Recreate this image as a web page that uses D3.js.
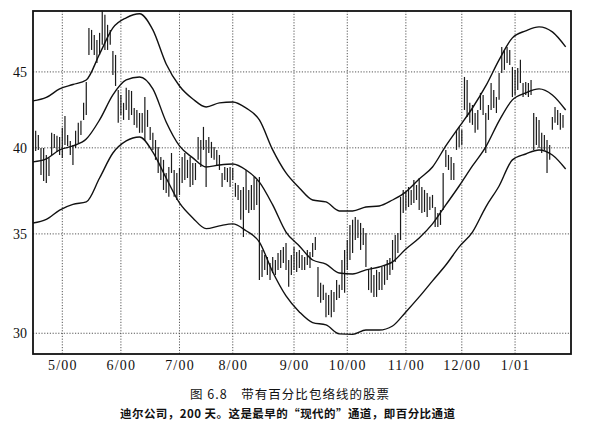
<!DOCTYPE html>
<html><head><meta charset="utf-8">
<script src="https://cdn.jsdelivr.net/npm/d3@7"></script>
<style>
html,body{margin:0;padding:0;background:#fff;}
svg{display:block;}
</style></head>
<body>
<svg id="chart" width="591" height="430"></svg>
<script>
// ---- data ----
const monthDays   = [11, 33, 55, 75, 98, 118, 140, 161, 181];
const monthLabels = ["5/00","6/00","7/00","8/00","9/00","10/00","11/00","12/00","1/01"];
const yTickValues = [30, 35, 40, 45];

// daily highs, days 1..199
const highs = [
41.07,40.81,39.99,39.99,39.56,39.38,40.94,40.87,40.75,40.68,
41.26,42.02,40.81,40.43,40.18,41.07,41.58,41.71,42.89,44.30,
48.18,48.03,47.66,47.29,47.81,49.48,49.17,48.41,48.03,46.49,
46.20,43.76,43.42,42.89,43.90,43.76,43.69,42.55,42.42,42.22,
42.22,43.28,42.42,41.32,40.94,40.49,40.05,39.44,39.26,38.47,
38.83,39.68,38.65,38.47,38.77,39.44,39.68,39.26,39.44,39.07,
39.07,40.68,40.49,41.32,40.49,40.68,40.37,40.05,39.87,39.56,
38.47,38.83,38.77,38.83,38.77,37.88,37.76,37.47,37.64,38.65,
37.47,37.76,38.23,38.05,38.23,34.14,33.87,33.77,33.45,33.77,
33.61,33.98,34.14,34.30,34.51,33.61,33.87,34.30,34.03,34.14,
33.87,33.77,34.14,34.03,34.51,34.83,33.25,32.44,32.34,31.94,
31.84,32.08,31.98,32.59,32.34,33.61,34.14,34.67,35.49,35.77,
35.93,35.77,35.60,35.32,35.05,33.10,33.25,32.84,33.10,32.99,
33.25,33.35,33.61,33.71,34.67,34.94,35.05,37.07,37.47,37.36,
37.64,37.47,38.05,37.76,38.17,37.64,37.47,37.30,37.07,37.18,
36.49,36.15,36.32,38.47,39.87,39.56,39.44,39.07,41.13,41.32,
41.13,44.65,44.44,42.89,42.75,42.22,42.42,43.56,43.42,42.22,
42.75,44.23,43.76,43.28,44.93,46.78,46.56,46.78,46.56,45.35,
45.14,45.28,45.85,44.23,44.30,44.23,44.44,42.22,41.96,41.77,
40.94,40.81,40.49,40.18,41.96,42.62,42.42,42.22,42.09];

// daily lows, days 1..199
const lows = [
39.81,39.87,38.35,37.99,37.88,38.29,39.56,39.99,39.74,39.56,
39.38,40.18,40.12,39.56,38.95,39.99,40.30,40.81,41.77,42.09,
46.20,46.56,46.20,45.63,46.20,46.93,46.56,46.56,46.93,44.79,
44.03,41.58,42.09,41.77,42.42,41.77,42.09,41.45,41.26,40.94,
40.94,40.49,41.32,40.49,39.87,39.26,38.47,38.05,37.47,37.30,
37.07,38.47,37.07,36.89,37.18,37.88,38.05,38.17,37.64,37.76,
38.05,39.26,38.83,39.87,37.64,39.68,39.38,39.26,38.95,38.65,
37.64,38.05,37.93,37.64,38.05,37.07,36.89,35.77,34.83,36.32,
36.15,36.32,36.32,36.61,32.59,32.74,33.10,32.84,32.59,32.94,
32.84,33.10,33.20,33.45,33.10,32.24,32.84,33.10,32.99,33.20,
33.10,33.10,33.35,33.20,33.77,34.14,31.74,31.45,31.59,30.76,
30.86,30.76,31.01,31.59,31.69,32.08,31.94,33.10,33.61,33.98,
34.67,34.78,34.14,34.40,33.25,32.08,31.94,31.74,31.74,32.08,
32.08,32.34,32.59,32.84,33.10,33.51,33.98,34.67,36.15,36.32,
36.49,36.61,36.72,36.89,36.32,36.15,36.21,35.93,36.32,36.44,
35.38,35.38,35.49,36.32,38.83,38.65,38.05,38.05,39.87,40.05,
40.18,42.42,41.96,41.58,41.45,40.94,41.13,42.42,42.09,39.68,
41.77,42.42,42.55,42.22,43.09,44.93,45.14,45.63,45.49,43.28,
43.42,43.76,44.23,43.28,43.42,43.28,43.42,39.87,40.18,39.99,
39.68,39.87,38.47,39.26,41.13,41.58,41.45,41.13,41.26];

// envelope lines sampled every 5 days (day 0..200)
const lineDays = [0,5,10,15,20,25,30,35,40,45,50,55,60,65,70,75,80,85,90,95,100,
                  105,110,115,120,125,130,135,140,145,150,155,160,165,170,175,180,185,190,195,200];
const upper = [43.02,43.25,43.83,44.13,44.44,46.27,48.18,48.94,49.25,48.03,45.56,44.03,43.15,42.62,42.89,42.95,42.55,41.77,39.87,38.47,37.59,
               36.89,36.78,36.27,36.27,36.49,36.55,36.89,37.36,38.11,38.83,40.12,41.32,42.55,44.03,45.85,47.44,47.96,48.26,47.88,46.78];
const middle = [39.14,39.32,39.87,40.12,40.55,41.77,43.42,44.44,44.65,43.83,41.64,40.12,39.38,38.83,38.95,39.01,38.65,37.93,36.61,35.10,34.35,
                33.61,33.40,32.94,32.89,33.10,33.25,33.51,34.19,34.78,35.55,36.61,37.70,38.89,40.06,41.71,43.09,43.56,43.83,43.42,42.42];
const lower = [35.60,35.80,36.32,36.64,36.78,38.17,39.68,40.43,40.68,39.74,38.17,36.72,35.88,35.29,35.44,35.55,35.17,34.56,32.99,31.79,31.01,
               30.50,30.39,29.97,29.95,30.15,30.15,30.34,31.01,31.74,32.54,33.35,34.30,35.10,36.49,37.70,39.26,39.62,39.87,39.56,38.71];

const title1 = "图 6.8\u2003带有百分比包络线的股票";
const title2 = "迪尔公司，200 天。这是最早的“现代的”通道，即百分比通道";

// ---- layout ----
const L = 33, R = 571, T = 11, B = 354;
const svg = d3.select("#chart");
const x = d3.scaleLinear().domain([0, 202]).range([L, R]);
const y = d3.scaleLog().domain([29.05, 49.46]).range([B, T]);

// grid
const grid = svg.append("g").attr("stroke", "#444").attr("stroke-width", 0.9)
  .attr("stroke-dasharray", "1.2,1.6");
grid.selectAll("line.h").data(yTickValues).join("line")
  .attr("x1", L).attr("x2", R).attr("y1", d => y(d)).attr("y2", d => y(d));
grid.selectAll("line.v").data(monthDays).join("line")
  .attr("y1", T).attr("y2", B).attr("x1", d => x(d)).attr("x2", d => x(d));

// y axis labels
const yAxis = d3.axisLeft(y).tickValues(yTickValues).tickFormat(d3.format("d")).tickSize(0).tickPadding(6);
const ya = svg.append("g").attr("transform", `translate(${L},0)`).call(yAxis);
ya.select(".domain").remove();
ya.selectAll("text").attr("font-family", "'Liberation Serif', serif").attr("font-size", 14).attr("fill", "#111");

// x axis labels
const xAxis = d3.axisBottom(x).tickValues(monthDays).tickFormat((d, i) => monthLabels[i]).tickSize(0).tickPadding(6);
const xa = svg.append("g").attr("transform", `translate(0,${B})`).call(xAxis);
xa.select(".domain").remove();
xa.selectAll("text").attr("font-family", "'Liberation Serif', serif").attr("font-size", 14)
  .attr("letter-spacing", "1.2px").attr("fill", "#111");

// bars
const barData = highs.map((h, i) => ({ day: i + 1, hi: h, lo: lows[i] }));
svg.append("g").attr("stroke", "#1a1a1a").attr("stroke-width", 1.2)
  .selectAll("line").data(barData).join("line")
  .attr("x1", d => x(d.day)).attr("x2", d => x(d.day))
  .attr("y1", d => y(d.hi)).attr("y2", d => y(d.lo));

// envelope lines
const lineGen = d3.line().x(d => x(d[0])).y(d => y(d[1])).curve(d3.curveMonotoneX);
[upper, middle, lower].forEach(series => {
  svg.append("path").datum(lineDays.map((d, i) => [d, series[i]]))
    .attr("d", lineGen).attr("fill", "none").attr("stroke", "#111").attr("stroke-width", 1.4);
});

// frame
svg.append("rect").attr("x", L).attr("y", T).attr("width", R - L).attr("height", B - T)
  .attr("fill", "none").attr("stroke", "#111").attr("stroke-width", 1.8);

// captions
svg.append("text").attr("x", 190).attr("y", 399)
  .attr("textLength", 199).attr("lengthAdjust", "spacing")
  .attr("font-family", "'Noto Sans CJK SC', sans-serif").attr("font-size", 12.5).attr("fill", "#111")
  .text(title1);
svg.append("text").attr("x", 120).attr("y", 418)
  .attr("textLength", 335).attr("lengthAdjust", "spacing")
  .attr("font-family", "'Noto Sans CJK SC', sans-serif").attr("font-size", 11.5).attr("font-weight", "bold").attr("fill", "#111")
  .text(title2);
</script>
</body></html>
